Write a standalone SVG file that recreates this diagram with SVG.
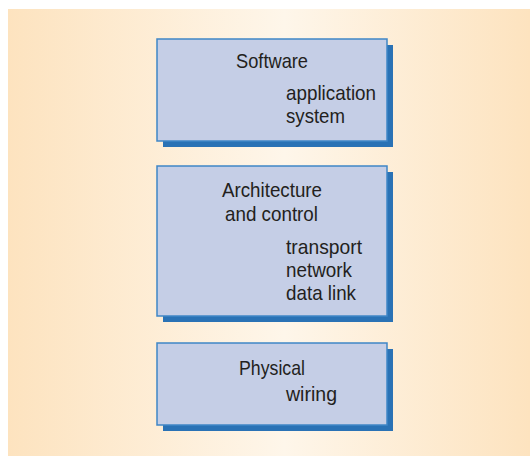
<svg xmlns="http://www.w3.org/2000/svg" width="530" height="456" viewBox="0 0 530 456">
<defs>
<linearGradient id="bg" x1="8" y1="0" x2="530" y2="0" gradientUnits="userSpaceOnUse">
<stop offset="0" stop-color="#fde3bf"/>
<stop offset="0.53" stop-color="#fef6ea"/>
<stop offset="1" stop-color="#fde3bf"/>
</linearGradient>
<style>
.sh{fill:#2a72b5}
.bx{fill:#c5cee6;stroke:#3f86c6;stroke-width:1.5}
text{font-family:"Liberation Sans",Arial,sans-serif;font-size:21px;fill:#231f20}
</style>
</defs>
<rect x="0" y="0" width="530" height="456" fill="#ffffff"/>
<rect x="8" y="9" width="522" height="447" fill="url(#bg)"/>
<g id="software">
<rect class="sh" x="163" y="45" width="230" height="102"/>
<rect class="bx" x="157" y="39" width="230" height="102"/>
<text x="236" y="68" textLength="72" lengthAdjust="spacingAndGlyphs">Software</text>
<text x="286" y="100" textLength="90" lengthAdjust="spacingAndGlyphs">application</text>
<text x="286" y="123" textLength="59" lengthAdjust="spacingAndGlyphs">system</text>
</g>
<g id="architecture">
<rect class="sh" x="163" y="172" width="230" height="150"/>
<rect class="bx" x="157" y="166" width="230" height="150"/>
<text x="222" y="197" textLength="100" lengthAdjust="spacingAndGlyphs">Architecture</text>
<text x="225" y="220.5" textLength="93" lengthAdjust="spacingAndGlyphs">and control</text>
<text x="286" y="254" textLength="76" lengthAdjust="spacingAndGlyphs">transport</text>
<text x="286" y="277" textLength="66" lengthAdjust="spacingAndGlyphs">network</text>
<text x="286" y="300" textLength="70" lengthAdjust="spacingAndGlyphs">data link</text>
</g>
<g id="physical">
<rect class="sh" x="163" y="349" width="230" height="82"/>
<rect class="bx" x="157" y="343" width="230" height="82"/>
<text x="239" y="375" textLength="66" lengthAdjust="spacingAndGlyphs">Physical</text>
<text x="286" y="401" textLength="51" lengthAdjust="spacingAndGlyphs">wiring</text>
</g>
<g id="connectors"></g>
</svg>
